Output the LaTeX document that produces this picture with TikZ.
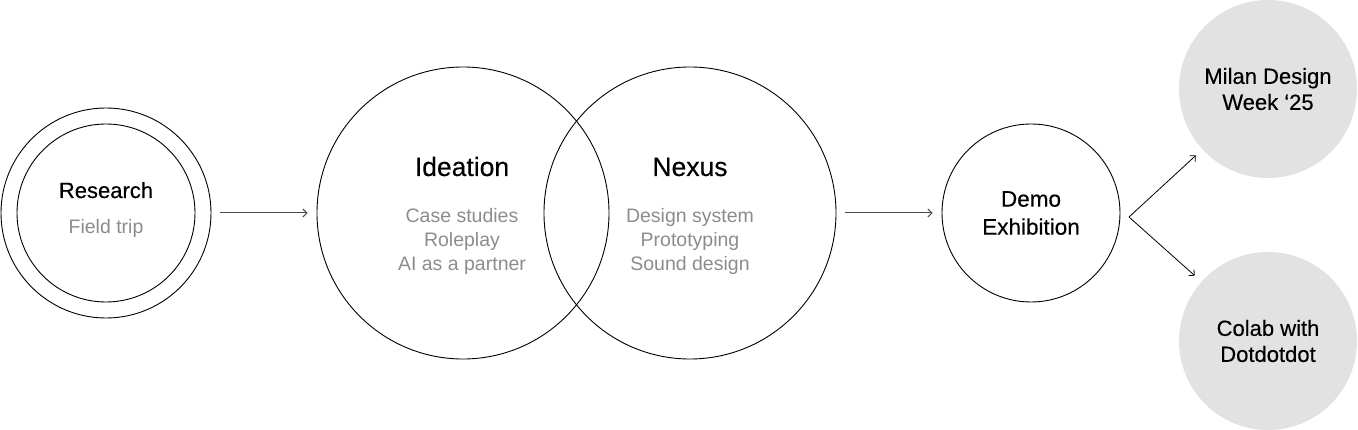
\documentclass[tikz,border=0pt]{standalone}
\usepackage{fontspec}
\setmainfont{Liberation Sans}
\newfontface\stagefont{Liberation Sans}[FakeBold=0.35]
\definecolor{NoteGrey}{RGB}{140, 140, 140}
\definecolor{PastGrey}{RGB}{226, 226, 226}
\usetikzlibrary{arrows.meta, positioning}

\begin{document}
\begin{tikzpicture}[x=1pt, y=-1pt,
        stage/.style={circle, draw, line width=0.9pt, inner sep=0pt, align=center},
        outcome/.style={circle, fill=PastGrey, minimum size=178pt, inner sep=0pt, align=center, font=\stagefont\fontsize{22}{26}\selectfont},
        title/.style={anchor=base, inner sep=0pt, font=\stagefont\fontsize{22}{26}\selectfont},
        note/.style={inner sep=0pt, align=center, text=NoteGrey, font=\fontsize{19.5}{24}\selectfont},
        arrow/.style={line width=1pt, draw=black!70, -{Straight Barb[length=4pt, width=8pt]}, shorten <=9pt, shorten >=9pt}
    ]
        \useasboundingbox (0,0) rectangle (1358,430);

        \node[stage, minimum size=210pt] (research) at (106,213) {};
        \node[stage, minimum size=178pt] (researchcore) at (research) {};
        \node[title] (researchtitle) at (106,198) {Research};
        \node[note, anchor=base] (researchnote) at (106,234) {Field trip};

        \node[stage, minimum size=292pt] (ideation) at (463,213) {};
        \node[stage, minimum size=292pt] (nexus) at (690,213) {};
        \node[title, font=\stagefont\fontsize{26.5}{30}\selectfont] (ideationtitle) at (462,176) {Ideation};
        \node[title, font=\stagefont\fontsize{26.5}{30}\selectfont] (nexustitle) at (690,176) {Nexus};
        \node[note, anchor=north] (ideationnote) at (462,208) {Case studies\\Roleplay\\AI as a partner};
        \node[note, anchor=north] (nexusnote) at (690,208) {Design system\\Prototyping\\Sound design};

        \node[stage, minimum size=178pt, font=\stagefont\fontsize{22.5}{28}\selectfont] (demo) at (1031,213) {Demo\\Exhibition};
        \coordinate (split) at (1129,217);

        \node[outcome] (milan) at (1268,89) {Milan Design\\Week ‘25};
        \node[outcome] (colab) at (1268,341) {Colab with\\Dotdotdot};

        \draw[arrow] (research) -- (ideation);
        \draw[arrow] (nexus) -- (demo);
        \draw[arrow, draw=black, line width=0.8pt, shorten <=0pt] (split) -- (milan);
        \draw[arrow, draw=black, line width=0.8pt, shorten <=0pt] (split) -- (colab);
    \end{tikzpicture}
\end{document}
